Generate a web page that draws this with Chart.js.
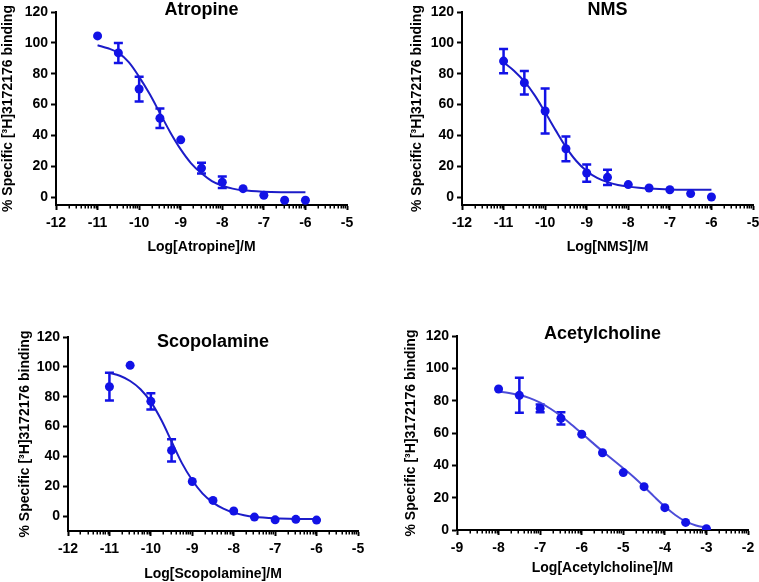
<!DOCTYPE html>
<html><head><meta charset="utf-8">
<script src="https://cdn.jsdelivr.net/npm/chart.js@4/dist/chart.umd.min.js"></script>
<style>
html,body{margin:0;padding:0;background:#fff;overflow:hidden;width:759px;height:582px;position:relative;}
canvas{position:absolute;display:block;}
</style></head><body>
<canvas id="c1"></canvas>
<canvas id="c2"></canvas>
<canvas id="c3"></canvas>
<canvas id="c4"></canvas>
<script>
// ---- tick labels ----
const xTicksAntagonist = [-12, -11, -10, -9, -8, -7, -6, -5];
const xTicksAgonist = [-9, -8, -7, -6, -5, -4, -3, -2];
const yTicks = [0, 20, 40, 60, 80, 100, 120];

// ---- Atropine ----
const atropineLogConc = [-11, -10.5, -10, -9.5, -9, -8.5, -8, -7.5, -7, -6.5, -6];
const atropineBinding = [104.5, 93.5, 70.1, 51.2, 37.2, 18.9, 9.7, 5.6, 1.3, -1.9, -1.9];
const atropineSEM = [null, 6.5, 8.0, 6.3, null, 3.5, 3.7, null, null, null, null];
const atropineFitLogConc = [-11, -10.75, -10.5, -10.25, -10, -9.75, -9.5, -9.25, -9, -8.75, -8.5, -8.25, -8, -7.75, -7.5, -7, -6.5, -6];
const atropineFitBinding = [98.5, 96.5, 93.5, 87.5, 78, 67, 54.5, 42, 31, 22, 15.5, 10.5, 7.5, 5.6, 4.5, 3.6, 3.3, 3.2];

// ---- NMS ----
const nmsLogConc = [-11, -10.5, -10, -9.5, -9, -8.5, -8, -7.5, -7, -6.5, -6];
const nmsBinding = [88.2, 74.2, 55.9, 31.4, 15.7, 12.9, 8.2, 6.0, 4.9, 2.4, 0.2];
const nmsSEM = [7.8, 7.6, 14.6, 8.0, 5.6, 4.9, null, null, null, null, null];
const nmsFitLogConc = [-11, -10.75, -10.5, -10.25, -10, -9.75, -9.5, -9.25, -9, -8.75, -8.5, -8.25, -8, -7.75, -7.5, -7, -6.5, -6];
const nmsFitBinding = [87.5, 82, 75, 66, 55, 43.5, 32.5, 23.5, 17, 12.5, 9.8, 8, 6.9, 6.2, 5.7, 5.1, 4.9, 4.8];

// ---- Scopolamine ----
const scopolamineLogConc = [-11, -10.5, -10, -9.5, -9, -8.5, -8, -7.5, -7, -6.5, -6];
const scopolamineBinding = [86.7, 101.0, 76.9, 44.0, 23.2, 10.5, 3.4, -0.7, -2.5, -2.2, -2.7];
const scopolamineSEM = [9.3, null, 5.4, 7.4, null, null, null, null, null, null, null];
const scopolamineFitLogConc = [-11, -10.75, -10.5, -10.25, -10, -9.75, -9.5, -9.25, -9, -8.75, -8.5, -8.25, -8, -7.75, -7.5, -7, -6.5, -6];
const scopolamineFitBinding = [96, 94, 90.5, 85, 76.5, 64.5, 50, 35.5, 24, 15, 9, 5, 2.3, 0.6, -0.5, -1.5, -1.9, -2.0];

// ---- Acetylcholine ----
const achLogConc = [-8, -7.5, -7, -6.5, -6, -5.5, -5, -4.5, -4, -3.5, -3];
const achBinding = [87.2, 83.3, 75.3, 69.1, 59.2, 47.8, 35.5, 26.8, 13.8, 4.7, 0.8];
const achSEM = [null, 10.8, 2.4, 3.8, null, null, null, null, null, null, null];
const achFitLogConc = [-8, -7.75, -7.5, -7.25, -7, -6.75, -6.5, -6.25, -6, -5.75, -5.5, -5.25, -5, -4.75, -4.5, -4.25, -4, -3.75, -3.5, -3.25, -3];
const achFitBinding = [85.5, 84.8, 83.5, 81.6, 78.8, 75, 70.5, 65.3, 59.8, 54.2, 48.7, 43.5, 38.2, 32.8, 26.8, 20.5, 14.5, 9.3, 5.3, 2.8, 1.4];

const FONT = '"Liberation Sans", Arial, Helvetica, sans-serif';
const POINT_COLOR = '#1212e6';
const Y_TITLE = '% Specific [³H]3172176 binding';

const panels = [
  {canvas:'c1', title:'Atropine', xLabel:'Log[Atropine]/M', xTicks:xTicksAntagonist, yMin:-5,
   x:atropineLogConc, y:atropineBinding, err:atropineSEM, fx:atropineFitLogConc, fy:atropineFitBinding,
   box:[0,0,380,256], area:[56,12,347,205], titleDy:-2, lineColor:'#1c1cc8'},
  {canvas:'c2', title:'NMS', xLabel:'Log[NMS]/M', xTicks:xTicksAntagonist, yMin:-5,
   x:nmsLogConc, y:nmsBinding, err:nmsSEM, fx:nmsFitLogConc, fy:nmsFitBinding,
   box:[409,0,350,256], area:[462,12,753,205], titleDy:-2, lineColor:'#1c1cc8'},
  {canvas:'c3', title:'Scopolamine', xLabel:'Log[Scopolamine]/M', xTicks:xTicksAntagonist, yMin:-10,
   x:scopolamineLogConc, y:scopolamineBinding, err:scopolamineSEM, fx:scopolamineFitLogConc, fy:scopolamineFitBinding,
   box:[17,290,363,293], area:[68,337,358,531], titleDy:5, lineColor:'#1c1cc8'},
  {canvas:'c4', title:'Acetylcholine', xLabel:'Log[Acetylcholine]/M', xTicks:xTicksAgonist, yMin:0,
   x:achLogConc, y:achBinding, err:achSEM, fx:achFitLogConc, fy:achFitBinding,
   box:[403,290,356,287], area:[457,336,748,530], titleDy:-2, lineColor:'#4c4cd8'}
];

function makeDecor(p) {
  return {
    id: 'decor_' + p.canvas,
    beforeDatasetsDraw(chart) {
      const ctx = chart.ctx, xs = chart.scales.x, ys = chart.scales.y;
      ctx.save();
      ctx.strokeStyle = POINT_COLOR;
      ctx.lineWidth = 2.5;
      p.err.forEach((e, i) => {
        if (e == null) return;
        const px = xs.getPixelForValue(p.x[i]);
        const yHi = ys.getPixelForValue(p.y[i] + e);
        const yLo = ys.getPixelForValue(p.y[i] - e);
        ctx.beginPath();
        ctx.moveTo(px, yHi); ctx.lineTo(px, yLo);
        ctx.moveTo(px - 4.5, yHi); ctx.lineTo(px + 4.5, yHi);
        ctx.moveTo(px - 4.5, yLo); ctx.lineTo(px + 4.5, yLo);
        ctx.stroke();
      });
      ctx.restore();
    },
    afterDraw(chart) {
      const ctx = chart.ctx, xs = chart.scales.x, a = chart.chartArea;
      ctx.save();
      // log-style minor ticks on x axis
      ctx.strokeStyle = '#000';
      ctx.lineWidth = 1.5;
      ctx.beginPath();
      for (let d = xs.min; d < xs.max; d++) {
        for (let k = 2; k <= 9; k++) {
          const px = Math.round(xs.getPixelForValue(d + Math.log10(k))) + 0.25;
          ctx.moveTo(px, a.bottom);
          ctx.lineTo(px, a.bottom + 3.5);
        }
      }
      ctx.stroke();
      // panel title
      ctx.fillStyle = '#000';
      ctx.font = 'bold 18px ' + FONT;
      ctx.textAlign = 'center';
      ctx.textBaseline = 'middle';
      ctx.fillText(p.title, (a.left + a.right) / 2, a.top + p.titleDy);
      ctx.restore();
    }
  };
}

panels.forEach(p => {
  const [L, T, W, H] = p.box;
  const [l, t, r, b] = p.area;
  const cv = document.getElementById(p.canvas);
  cv.width = W; cv.height = H;
  cv.style.left = L + 'px'; cv.style.top = T + 'px';
  cv.style.width = W + 'px'; cv.style.height = H + 'px';
  const yW = l - L;
  const xH = (T + H) - b;
  const padT = t - T;
  const padR = (L + W) - r;
  const tickFont = {family: FONT, size: 14, weight: 'bold'};
  new Chart(cv, {
    type: 'scatter',
    data: {
      datasets: [
        {
          data: p.x.map((v, i) => ({x: v, y: p.y[i]})),
          backgroundColor: POINT_COLOR, borderColor: POINT_COLOR, borderWidth: 0,
          pointRadius: 4.5, pointHoverRadius: 4.5, showLine: false, order: 0
        },
        {
          data: p.fx.map((v, i) => ({x: v, y: p.fy[i]})),
          borderColor: p.lineColor, borderWidth: 2, pointRadius: 0, pointHoverRadius: 0,
          showLine: true, fill: false, cubicInterpolationMode: 'monotone', order: 1
        }
      ]
    },
    options: {
      responsive: false, animation: false, devicePixelRatio: 1,
      layout: {padding: {left: 0, top: padT, right: padR, bottom: 0}},
      plugins: {legend: {display: false}, tooltip: {enabled: false}, title: {display: false}},
      scales: {
        x: {
          type: 'linear', min: p.xTicks[0], max: p.xTicks[p.xTicks.length - 1],
          afterBuildTicks: s => { s.ticks = p.xTicks.map(v => ({value: v})); },
          afterFit: s => { s.height = xH; s.paddingLeft = 0; s.paddingRight = 0; },
          grid: {drawOnChartArea: false, drawTicks: true, tickLength: 5, tickWidth: 2, tickColor: '#000'},
          border: {display: true, width: 2, color: '#000'},
          ticks: {color: '#000', font: tickFont, padding: 5, maxRotation: 0, autoSkip: false},
          title: {display: true, text: p.xLabel, color: '#000', font: {family: FONT, size: 14, weight: 'bold', lineHeight: 1.2}, padding: 0}
        },
        y: {
          type: 'linear', min: p.yMin, max: 120,
          afterBuildTicks: s => { s.ticks = yTicks.map(v => ({value: v})); },
          afterFit: s => { s.width = yW; s.paddingTop = 0; s.paddingBottom = 0; },
          grid: {drawOnChartArea: false, drawTicks: true, tickLength: 5, tickWidth: 2, tickColor: '#000'},
          border: {display: true, width: 2, color: '#000'},
          ticks: {color: '#000', font: tickFont, padding: 3},
          title: {display: true, text: Y_TITLE, color: '#000', font: {family: FONT, size: 14, weight: 'bold', lineHeight: 1.2}, padding: 0}
        }
      }
    },
    plugins: [makeDecor(p)]
  });
});
</script>
</body></html>
